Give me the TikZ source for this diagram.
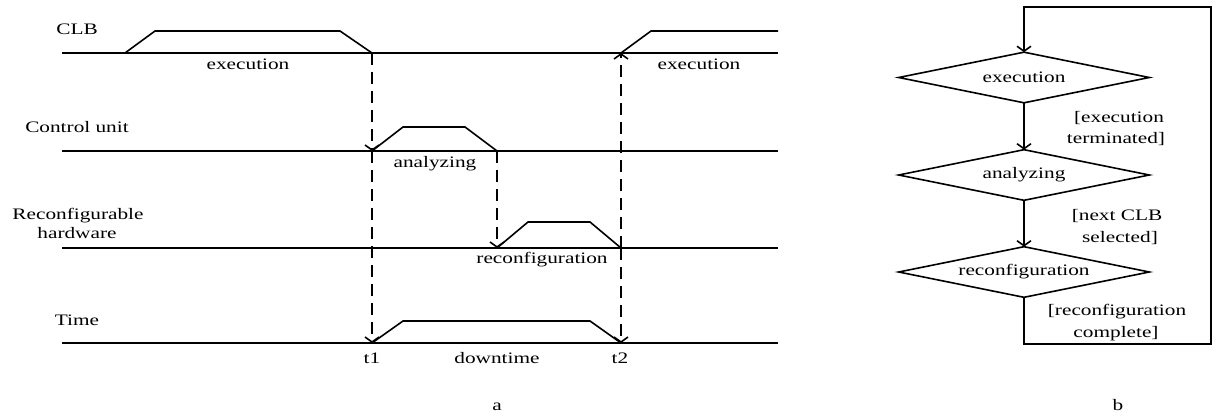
\documentclass[tikz,border=0pt]{standalone}
\usepackage{fontspec}
\setmainfont[FakeStretch=1.33]{Liberation Serif}
\usetikzlibrary{arrows.meta}
\begin{document}
\begin{tikzpicture}[x=1pt,y=-1pt,line width=1.6pt,
  every node/.style={font=\fontsize{16}{19}\selectfont, inner sep=0pt},
  lbl/.style={anchor=base},
  tip/.style={-{Straight Barb[length=5pt,width=14pt]}},
  dsh/.style={tip, dash pattern=on 12pt off 7pt},
  dia/.style={minimum width=249pt, minimum height=49pt}]
\useasboundingbox (0,0) rectangle (1217,417);
% ---- timing diagram (a) ----
\coordinate (clbL) at (62,53);  \coordinate (clbR) at (778,53);
\coordinate (cuL) at (62,151);  \coordinate (cuR) at (778,151);
\coordinate (rhL) at (62,248);  \coordinate (rhR) at (778,248);
\coordinate (tL) at (62,343);   \coordinate (tR) at (778,343);
\draw (clbL) -- (clbR);
\draw (cuL) -- (cuR);
\draw (rhL) -- (rhR);
\draw (tL) -- (tR);
% pulses
\draw (125,53) -- (155,31) -- (340,31) -- (372,53);
\draw (621,53) -- (651,31) -- (778,31);
\draw (372,151) -- (403,127) -- (465,127) -- (497,151);
\draw (497,248) -- (528,222) -- (590,222) -- (621,248);
\draw (372,343) -- (403,321) -- (590,321) -- (621,343);
% event points
\coordinate (a1) at (372,53);  \coordinate (a2) at (372,151); \coordinate (a3) at (372,343);
\coordinate (b1) at (497,151); \coordinate (b2) at (497,248);
\coordinate (c1) at (621,248); \coordinate (c2) at (621,53);  \coordinate (c3) at (621,343);
\draw[dsh] (a1) -- (a2);
\draw[dsh] (a2) -- (a3);
\draw[dsh] (b1) -- (b2);
\draw[dsh] (c1) -- (c2);
\draw[dsh] (c1) -- (c3);
% labels
\node[lbl] (lclb) at (77,35) {CLB};
\node[lbl] (lcu) at (77,132) {Control unit};
\node[lbl] (lrh1) at (78,219) {Reconfigurable};
\node[lbl] (lrh2) at (77,238) {hardware};
\node[lbl] (ltime) at (77,325) {Time};
\node[lbl] (lex1) at (248,70) {execution};
\node[lbl] (lex2) at (699,70) {execution};
\node[lbl] (lan) at (435,167) {analyzing};
\node[lbl] (lrc) at (542,263) {reconfiguration};
\node[lbl] (lt1) at (372,363) {t1};
\node[lbl] (ldt) at (497,363) {downtime};
\node[lbl] (lt2) at (620,363) {t2};
\node[lbl] (la) at (497,410) {a};
% ---- flow chart (b) ----
\node[dia] (exe) at (1024,77.5) {execution};
\node[dia] (ana) at (1024,175) {analyzing};
\node[dia] (rec) at (1024,272) {reconfiguration};
\foreach \n in {exe,ana,rec}
  \draw (\n.west) -- (\n.north) -- (\n.east) -- (\n.south) -- cycle;
\draw[tip] (exe.south) -- (ana.north);
\draw[tip] (ana.south) -- (rec.north);
\coordinate (k1) at (1024,344); \coordinate (k2) at (1211,344);
\coordinate (k3) at (1211,7);   \coordinate (k4) at (1024,7);
\draw[tip] (rec.south) -- (k1) -- (k2) -- (k3) -- (k4) -- (exe.north);
\node[lbl] (g1a) at (1119,122) {[execution};
\node[lbl] (g1b) at (1116,143) {terminated]};
\node[lbl] (g2a) at (1117,220) {[next CLB};
\node[lbl] (g2b) at (1120,242) {selected]};
\node[lbl] (g3a) at (1117,315) {[reconfiguration};
\node[lbl] (g3b) at (1116,337) {complete]};
\node[lbl] (lb) at (1118,410) {b};
\end{tikzpicture}
\end{document}
